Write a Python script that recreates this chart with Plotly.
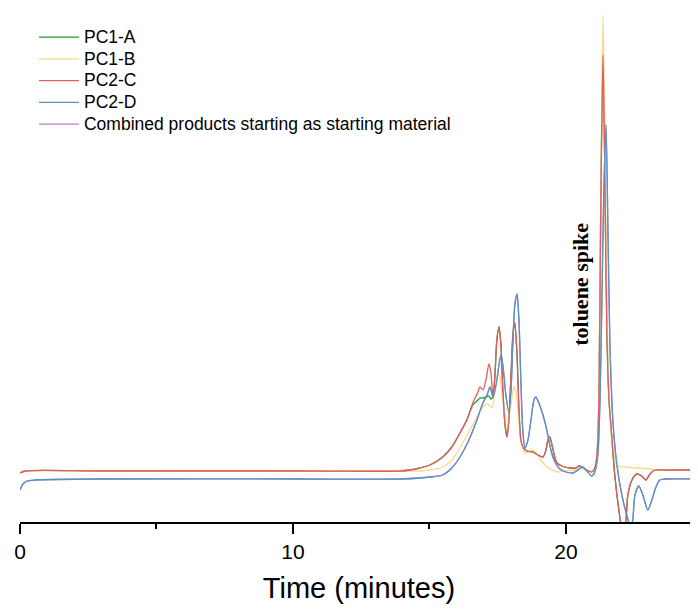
import plotly.graph_objects as go

# ---- data (detector signal, arbitrary units, vs. time in minutes) ----
t_c = [0.00, 0.18, 2.93, 10.26, 13.92, 14.29, 14.65, 15.02, 15.49, 15.82, 16.12, 16.37,
       16.59, 16.78, 16.85, 16.96, 17.07, 17.18, 17.25, 17.33, 17.40, 17.47, 17.55, 17.62,
       17.69, 17.77, 17.84, 17.91, 17.99, 18.06, 18.13, 18.21, 18.28, 18.35, 18.42, 18.57,
       18.79, 18.97, 19.16, 19.27, 19.34, 19.41, 19.49, 19.60, 19.67, 19.85, 20.15, 20.37,
       20.48, 20.59, 20.70, 20.84, 20.95, 21.06, 21.14, 21.21, 21.28, 21.36, 21.43, 21.50,
       21.58, 21.69, 21.79, 21.94, 22.09, 22.20, 22.27, 22.42, 22.60, 22.78, 22.93, 23.08,
       23.26, 23.63, 24.84]
pc2_c = [49, 51, 51, 51, 51, 52, 54, 57, 65, 75, 89, 102,
         119, 130, 135, 132, 142, 158, 150, 125, 147, 182, 195, 177,
         132, 97, 85, 102, 147, 187, 199, 167, 112, 82, 75, 71,
         70, 67, 65, 72, 82, 85, 77, 64, 59, 56, 54, 54,
         56, 55, 53, 51, 50, 54, 67, 122, 322, 467, 342, 192,
         122, 82, 47, 12, -13, 2, 27, 42, 48, 46, 42, 48,
         52, 52, 52]

t_b = [0.00, 0.18, 2.93, 10.26, 13.92, 14.29, 14.65, 15.02, 15.49, 15.82, 16.12, 16.48,
       16.78, 16.99, 17.14, 17.29, 17.40, 17.51, 17.58, 17.69, 17.84, 17.95, 18.10, 18.21,
       18.35, 18.50, 18.64, 18.79, 18.93, 19.08, 19.30, 19.52, 19.67, 19.96, 20.33, 20.59,
       20.73, 20.95, 21.06, 21.14, 21.21, 21.28, 21.36, 21.43, 21.50, 21.58, 21.69, 21.90,
       22.20, 22.60, 23.08, 23.44, 24.84]
pc1_b = [50, 51, 51, 51, 51, 51, 51, 52, 55, 62, 74, 92,
         107, 116, 118, 114, 130, 149, 145, 122, 92, 110, 136, 122,
         82, 69, 70, 72, 69, 62, 55, 52, 50, 51, 52, 54,
         52, 51, 54, 70, 130, 340, 507, 380, 220, 130, 80, 56,
         55, 54, 53, 52, 52]

t_d = [0.00, 0.11, 0.26, 0.55, 2.93, 10.26, 13.92, 14.65, 15.02, 15.49, 15.82, 16.12,
       16.48, 16.74, 16.96, 17.11, 17.22, 17.33, 17.44, 17.55, 17.62, 17.69, 17.80, 17.91,
       17.99, 18.06, 18.13, 18.21, 18.28, 18.35, 18.42, 18.50, 18.61, 18.72, 18.83, 18.90,
       19.01, 19.16, 19.30, 19.45, 19.60, 19.78, 20.00, 20.26, 20.44, 20.62, 20.77, 20.95,
       21.06, 21.17, 21.25, 21.32, 21.39, 21.47, 21.54, 21.61, 21.72, 21.87, 22.05, 22.23,
       22.38, 22.45, 22.53, 22.67, 22.82, 23.00, 23.15, 23.30, 23.44, 23.63, 24.84]
pc2_d = [32, 38, 41, 42, 43, 43, 43, 44, 45, 47, 54, 65,
         84, 102, 119, 127, 135, 125, 137, 157, 167, 157, 127, 110,
         132, 182, 217, 228, 202, 142, 92, 74, 82, 102, 122, 125,
         119, 107, 92, 72, 60, 53, 50, 49, 52, 55, 51, 46,
         50, 67, 122, 222, 332, 397, 292, 182, 102, 57, 27, 7,
         -6, 2, 27, 36, 27, 12, 22, 35, 42, 43, 43]

# PC1-A follows PC2-C almost exactly (hidden under it), except near 17.2 min
t_a = [0.00, 0.18, 2.93, 10.26, 13.92, 14.29, 14.65, 15.02, 15.49, 15.82, 16.12, 16.37,
       16.59, 16.78, 16.85, 16.96, 17.07, 17.18, 17.25, 17.33, 17.40, 17.47, 17.55, 17.62,
       17.69, 17.77, 17.84, 17.91, 17.99, 18.06, 18.13, 18.21, 18.28, 18.35, 18.42, 18.57,
       18.79, 18.97, 19.16, 19.27, 19.34, 19.41, 19.49, 19.60, 19.67, 19.85, 20.15, 20.37,
       20.48, 20.59, 20.70, 20.84, 20.95, 21.06, 21.14, 21.21, 21.28, 21.36, 21.43, 21.50,
       21.58, 21.69, 21.79, 21.94, 22.09, 22.20, 22.27, 22.42, 22.60, 22.78, 22.93, 23.08,
       23.26, 23.63, 24.84]
pc1_a = [49, 51, 51, 51, 51, 52, 54, 57, 65, 75, 89, 102,
         117, 122, 124, 124, 125, 126, 123, 125, 147, 182, 195, 177,
         132, 97, 85, 102, 147, 187, 199, 167, 112, 82, 75, 71,
         70, 67, 65, 72, 82, 85, 77, 64, 59, 56, 54, 54,
         56, 55, 53, 51, 50, 54, 67, 122, 322, 467, 342, 192,
         122, 82, 47, 12, -13, 2, 27, 42, 48, 46, 42, 48,
         52, 52, 52]

# combined sample lies under PC2-D
t_comb = t_d
combined = pc2_d

x_ticks = [0, 10, 20]
series_names = ["PC1-A", "PC1-B", "PC2-C", "PC2-D",
                "Combined products starting as starting material"]

fig = go.Figure()

def add(name, t, y, color, rank):
    fig.add_trace(go.Scatter(
        x=t, y=y, mode="lines",
        name='<span style="font-size:17.5px">' + name + '</span>',
        legendrank=rank,
        line=dict(color=color, width=1.3, shape="spline", smoothing=0.7),
    ))

add(series_names[4], t_comb, combined, "#b77fd6", 5)
add(series_names[0], t_a, pc1_a, "#1f9a2a", 1)
add(series_names[1], t_b, pc1_b, "#f6d98c", 2)
add(series_names[2], t_c, pc2_c, "#e65b5e", 3)
add(series_names[3], t_d, pc2_d, "#5a93c2", 4)

fig.add_annotation(
    x=20.51, y=238, xref="x", yref="y", text="<b>toluene spike</b>",
    textangle=-90, showarrow=False,
    font=dict(family="Liberation Serif, Times New Roman, serif", size=22, color="black"),
)

fig.update_layout(
    width=698, height=596,
    margin=dict(l=12, r=8, t=0, b=82, autoexpand=False),
    paper_bgcolor="white", plot_bgcolor="white",
    showlegend=True,
    legend=dict(
        x=0.0206, y=0.974, xanchor="left", yanchor="top",
        bgcolor="rgba(0,0,0,0)", itemwidth=40,
        font=dict(family="Liberation Sans, Arial, sans-serif", size=14.4, color="black"),
        tracegroupgap=0,
    ),
    font=dict(family="Liberation Sans, Arial, sans-serif", color="black"),
)

fig.update_xaxes(
    range=[0, 24.84], tickvals=x_ticks, ticktext=[str(v) for v in x_ticks],
    showline=True, linecolor="black", linewidth=2,
    ticks="outside", ticklen=10, tickwidth=2, tickcolor="black",
    minor=dict(tickvals=[5, 15], ticks="outside", ticklen=5, tickwidth=2, tickcolor="black"),
    showgrid=False, zeroline=False,
    tickfont=dict(size=21, family="Liberation Sans, Arial, sans-serif"),
    title=dict(text="Time (minutes)", font=dict(size=29, family="Liberation Sans, Arial, sans-serif"),
               standoff=17),
)
fig.update_yaxes(range=[0, 514], visible=False, showgrid=False, zeroline=False)

fig.write_html("out.html")
